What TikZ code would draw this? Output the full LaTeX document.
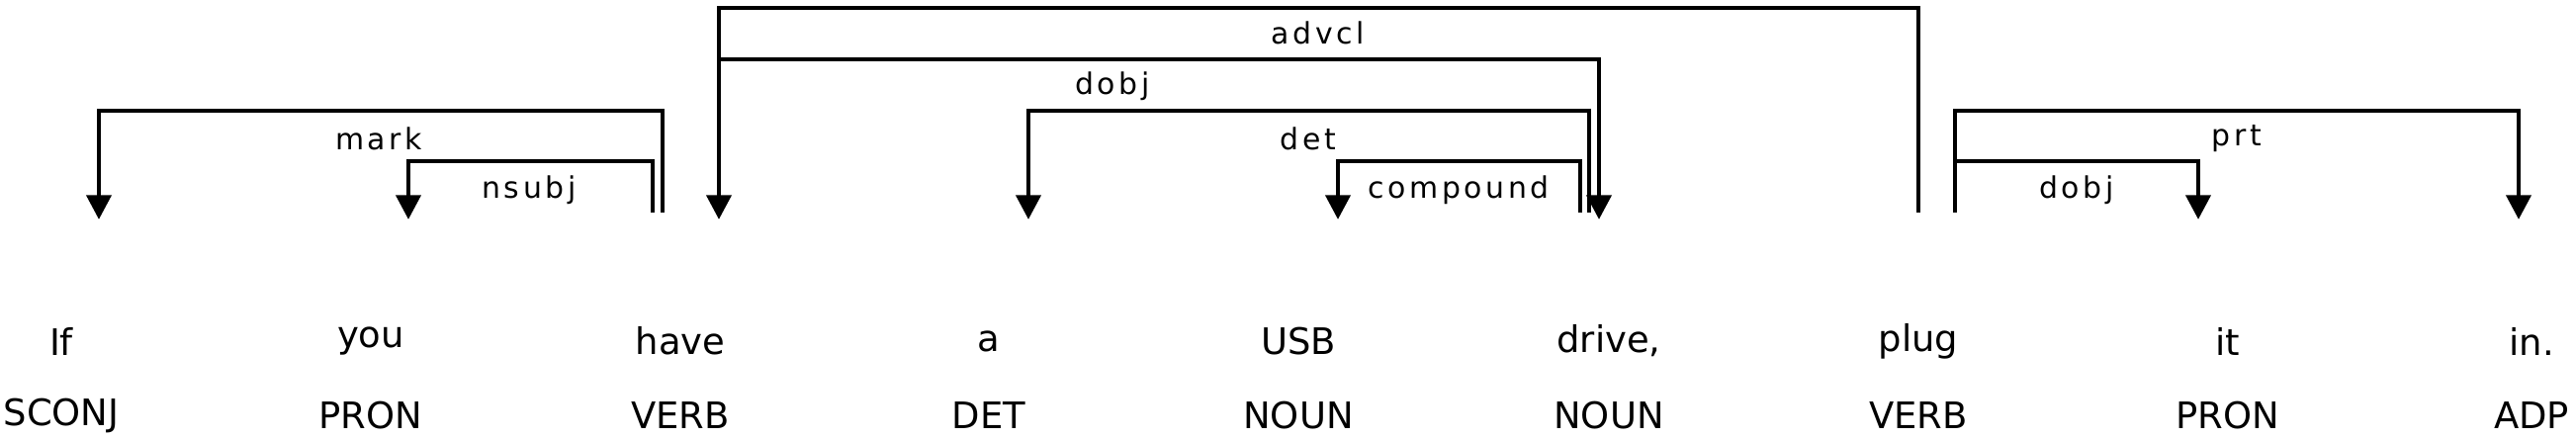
\documentclass[tikz,border=0pt]{standalone}
\usepackage{fontspec}
\setmainfont{DejaVu Sans}
\usetikzlibrary{arrows.meta}
\begin{document}
\begin{tikzpicture}[x=0.01cm,y=-0.01cm,
  word/.style={inner sep=0pt,font=\fontsize{10.5}{12}\selectfont},
  lab/.style={inner sep=0pt,font=\fontsize{8.5}{10}\selectfont\addfontfeatures{LetterSpace=12}},
  arc/.style={line width=1.4pt},
  tip/.style={-{Triangle[width=7pt,length=7pt]}}]
\useasboundingbox (0,0) rectangle (2605,443);
\foreach \w/\t/\x [count=\i] in {If/SCONJ/62,you/PRON/375,have/VERB/688,a/DET/1000,USB/NOUN/1313,{drive,}/NOUN/1627,plug/VERB/1940,it/PRON/2253,in./ADP/2560}{
  \node[word] (w\i) at (\x,345) {\w};
  \node[word] (t\i) at (\x,420) {\t};
}
% arcs
\coordinate (a1) at (670,215); \coordinate (b1) at (100,222);
\draw[arc,tip] (a1) -- (670,112) -- (100,112) -- (b1);
\node[lab] (l1) at (383,140) {mark};
\coordinate (a2) at (660,215); \coordinate (b2) at (413,222);
\draw[arc,tip] (a2) -- (660,163) -- (413,163) -- (b2);
\node[lab] (l2) at (535,192) {nsubj};
\coordinate (a3) at (1940,215); \coordinate (b3) at (727,222);
\draw[arc,tip] (a3) -- (1940,8) -- (727,8) -- (b3);
\node[lab] (l3) at (1333,33) {advcl};
\coordinate (a4) at (727,60); \coordinate (b4) at (1617,222);
\draw[arc,tip] (a4) -- (1617,60) -- (b4);
\node[lab] (l4) at (1125,87) {dobj};
\coordinate (a5) at (1607,215); \coordinate (b5) at (1040,222);
\draw[arc,tip] (a5) -- (1607,112) -- (1040,112) -- (b5);
\node[lab] (l5) at (1323,140) {det};
\coordinate (a6) at (1598,215); \coordinate (b6) at (1353,222);
\draw[arc,tip] (a6) -- (1598,163) -- (1353,163) -- (b6);
\node[lab] (l6) at (1475,192) {compound};
\coordinate (a7) at (1977,215); \coordinate (b7) at (2223,222);
\draw[arc,tip] (a7) -- (1977,163) -- (2223,163) -- (b7);
\node[lab] (l7) at (2100,192) {dobj};
\coordinate (a8) at (1977,215); \coordinate (b8) at (2547,222);
\draw[arc,tip] (a8) -- (1977,112) -- (2547,112) -- (b8);
\node[lab] (l8) at (2262,140) {prt};
\end{tikzpicture}
\end{document}
